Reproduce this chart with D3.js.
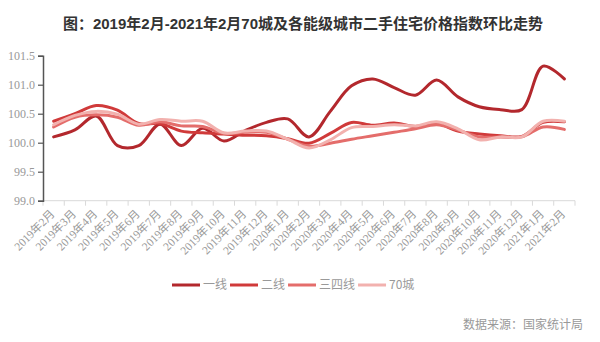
<!DOCTYPE html>
<html>
<head>
<meta charset="utf-8">
<script src="https://cdn.jsdelivr.net/npm/d3@7"></script>
<style>
  html, body { margin: 0; padding: 0; background: #fff; }
  svg { display: block; }
</style>
</head>
<body>
<svg id="chart" width="600" height="342"></svg>
<script>
// Months on the category axis
const months = [
  "2019年2月","2019年3月","2019年4月","2019年5月","2019年6月","2019年7月","2019年8月",
  "2019年9月","2019年10月","2019年11月","2019年12月","2020年1月","2020年2月","2020年3月",
  "2020年4月","2020年5月","2020年6月","2020年7月","2020年8月","2020年9月","2020年10月",
  "2020年11月","2020年12月","2021年1月","2021年2月"
];

// Month-on-month second-hand housing price index (previous month = 100)
const tier1 = [100.10,100.22,100.46,99.95,99.95,100.32,99.95,100.25,100.03,100.21,100.35,100.41,100.10,
               100.54,100.98,101.10,100.95,100.82,101.08,100.79,100.62,100.57,100.57,101.32,101.10];
const tier2 = [100.37,100.50,100.64,100.56,100.33,100.33,100.20,100.17,100.15,100.13,100.12,100.07,99.99,
               100.16,100.35,100.30,100.34,100.28,100.33,100.20,100.15,100.12,100.11,100.35,100.36];
const tier34 = [100.27,100.44,100.48,100.44,100.30,100.36,100.29,100.28,100.16,100.18,100.18,100.06,99.94,
                99.99,100.06,100.12,100.18,100.24,100.31,100.22,100.10,100.10,100.10,100.27,100.23];
const city70 = [100.31,100.47,100.54,100.49,100.32,100.40,100.37,100.37,100.17,100.20,100.20,100.06,99.91,
                100.05,100.26,100.28,100.31,100.29,100.36,100.24,100.05,100.10,100.10,100.37,100.37];

const seriesNames = ["一线", "二线", "三四线", "70城"];
const yTicks = [99.0, 99.5, 100.0, 100.5, 101.0, 101.5];

const series = [
  { name: seriesNames[0], values: tier1,  color: "#b3282d" },
  { name: seriesNames[1], values: tier2,  color: "#d03a3a" },
  { name: seriesNames[2], values: tier34, color: "#e46d6b" },
  { name: seriesNames[3], values: city70, color: "#f2b1ae" }
];

const svg = d3.select("#chart");
const plotLeft = 43, plotRight = 575, plotTop = 55.7, plotBottom = 200.7;

const x = d3.scaleBand().domain(months).range([plotLeft, plotRight]).paddingInner(0).paddingOuter(0);
const y = d3.scaleLinear().domain([99, 101.5]).range([plotBottom, plotTop]);
const cx = m => x(m) + x.bandwidth() / 2;

// Title
svg.append("text")
  .attr("x", 303).attr("y", 29)
  .attr("text-anchor", "middle")
  .style("font-family", "'Liberation Sans', 'Noto Sans CJK SC', sans-serif")
  .style("font-size", "15px")
  .style("font-weight", "bold")
  .style("fill", "#333")
  .text("图：2019年2月-2021年2月70城及各能级城市二手住宅价格指数环比走势");

// Category axis: light baseline with ticks between months
const xAxis = svg.append("g").attr("transform", `translate(0,${plotBottom})`);
xAxis.append("line")
  .attr("x1", plotLeft).attr("x2", plotRight)
  .attr("stroke", "#d9d9d9").attr("stroke-width", 1);
const bounds = months.map(m => x(m)).concat([x(months[months.length - 1]) + x.bandwidth()]);
xAxis.selectAll("line.tick").data(bounds).join("line")
  .attr("class", "tick")
  .attr("x1", d => d).attr("x2", d => d)
  .attr("y1", 0).attr("y2", 5)
  .attr("stroke", "#d9d9d9").attr("stroke-width", 1);

svg.append("g").selectAll("text").data(months).join("text")
  .attr("transform", d => `translate(${cx(d) - 1},${plotBottom + 11}) rotate(-45)`)
  .attr("text-anchor", "end")
  .attr("dy", "0.35em")
  .style("font-family", "'Liberation Serif', 'Noto Sans CJK SC', serif")
  .style("font-size", "11.5px")
  .style("fill", "#999")
  .text(d => d);

// Value axis
const yAxis = svg.append("g")
  .attr("transform", `translate(${plotLeft},0)`)
  .call(d3.axisLeft(y).tickValues(yTicks).tickFormat(d3.format(".1f")).tickSize(5).tickPadding(3));
yAxis.select(".domain").attr("stroke", "#555").attr("stroke-width", 1.5);
yAxis.selectAll(".tick line").attr("stroke", "#555").attr("stroke-width", 1.2);
yAxis.selectAll(".tick text")
  .style("font-family", "'Liberation Serif', serif")
  .style("font-size", "12px")
  .style("fill", "#999");

// Smoothed lines
const line = d3.line()
  .x((d, i) => cx(months[i]))
  .y(d => y(d))
  .curve(d3.curveCatmullRom.alpha(0.5));

svg.append("g").selectAll("path").data(series).join("path")
  .attr("d", s => line(s.values))
  .attr("fill", "none")
  .attr("stroke", s => s.color)
  .attr("stroke-width", 3)
  .attr("stroke-linejoin", "round")
  .attr("stroke-linecap", "round");

// Legend
const legend = svg.append("g").attr("transform", "translate(172,285)");
let lx = 0;
series.forEach(s => {
  const g = legend.append("g").attr("transform", `translate(${lx},0)`);
  g.append("line").attr("x1", 0).attr("x2", 28).attr("y1", 0).attr("y2", 0)
    .attr("stroke", s.color).attr("stroke-width", 3);
  const t = g.append("text").attr("x", 31).attr("y", 0).attr("dy", "0.35em")
    .style("font-family", "'Noto Sans CJK SC', sans-serif")
    .style("font-size", "12px")
    .style("fill", "#999")
    .text(s.name);
  lx += 31 + t.node().getComputedTextLength() + 3;
});

// Source note
svg.append("text")
  .attr("x", 583).attr("y", 325).attr("dy", "0.35em")
  .attr("text-anchor", "end")
  .style("font-family", "'Noto Sans CJK SC', sans-serif")
  .style("font-size", "12px")
  .style("fill", "#999")
  .text("数据来源：国家统计局");
</script>
</body>
</html>
